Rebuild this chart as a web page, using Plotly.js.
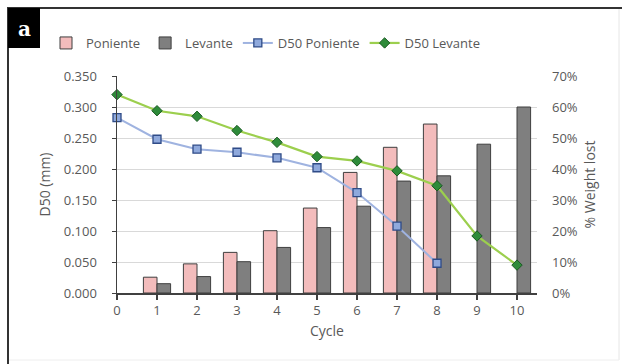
<!DOCTYPE html>
<html>
<head>
<meta charset="utf-8">
<script src="https://cdn.plot.ly/plotly-3.0.1.min.js"></script>
<style>html,body{margin:0;padding:0;background:#fff;}#chart{width:622px;height:364px;}</style>
</head>
<body>
<div id="chart"></div>
<script>
// Data
var cycles = [0, 1, 2, 3, 4, 5, 6, 7, 8, 9, 10];
var weightLostPoniente = [null, 5.1, 9.4, 13.1, 20.1, 27.4, 38.9, 47.0, 54.5, null, null];
var weightLostLevante = [null, 3.0, 5.3, 10.1, 14.7, 21.1, 28.0, 36.1, 37.8, 48.0, 60.0];
var d50Poniente = [0.283, 0.248, 0.232, 0.227, 0.218, 0.202, 0.162, 0.108, 0.048, null, null];
var d50Levante = [0.320, 0.294, 0.285, 0.262, 0.243, 0.220, 0.213, 0.197, 0.173, 0.092, 0.045];
var leftTicks = [0, 0.05, 0.1, 0.15, 0.2, 0.25, 0.3, 0.35];
var leftTickText = ['0.000', '0.050', '0.100', '0.150', '0.200', '0.250', '0.300', '0.350'];
var rightTicks = [0, 10, 20, 30, 40, 50, 60, 70];
var rightTickText = ['0%', '10%', '20%', '30%', '40%', '50%', '60%', '70%'];

var FONT = 'Open Sans, sans-serif';
var TXT = '#595959';

// paper helpers (plot area: x 117..537, y 76..293)
var L = 117, R = 537, T = 76, B = 293;
function px(x) { return (x - L) / (R - L); }
function py(y) { return (B - y) / (B - T); }

var traces = [
  {
    type: 'bar', name: 'Poniente', x: cycles, y: weightLostPoniente, yaxis: 'y',
    marker: {color: '#f3bcbc', line: {color: '#3f3f3f', width: 1}}
  },
  {
    type: 'bar', name: 'Levante', x: cycles, y: weightLostLevante, yaxis: 'y',
    marker: {color: '#7f7f7f', line: {color: '#3f3f3f', width: 1}}
  },
  {
    type: 'scatter', mode: 'lines+markers', name: 'D50 Poniente', x: cycles, y: d50Poniente, yaxis: 'y2',
    line: {color: '#9fb3e0', width: 2}, cliponaxis: false,
    marker: {symbol: 'square', size: 8, color: '#8fa9dc', line: {color: '#2f4b87', width: 1.3}}
  },
  {
    type: 'scatter', mode: 'lines+markers', name: 'D50 Levante', x: cycles, y: d50Levante, yaxis: 'y2',
    line: {color: '#9ccf4e', width: 2.2}, cliponaxis: false,
    marker: {symbol: 'diamond', size: 8, color: '#2e8b3a', line: {color: '#1a5a22', width: 1}}
  }
];

var layout = {
  width: 622, height: 364,
  margin: {l: L, r: 622 - R, t: T, b: 364 - B},
  paper_bgcolor: '#ffffff', plot_bgcolor: '#ffffff',
  font: {family: FONT, size: 13, color: TXT},
  barmode: 'group', bargap: 0.32, bargroupgap: 0,
  showlegend: true,
  legend: {
    orientation: 'h', xref: 'paper', yref: 'paper',
    x: px(46), xanchor: 'left', y: py(43), yanchor: 'middle',
    font: {family: FONT, size: 13, color: TXT}, bgcolor: 'rgba(0,0,0,0)'
  },
  xaxis: {
    range: [0, 10.5], tickmode: 'array', tickvals: cycles, ticktext: cycles.map(String),
    showline: true, linecolor: '#404040', linewidth: 1.5,
    ticks: 'outside', ticklen: 5, tickcolor: '#404040', tickwidth: 1.2,
    showgrid: false, zeroline: false,
    tickfont: {family: FONT, size: 13, color: TXT},
    title: {text: 'Cycle', font: {family: FONT, size: 14, color: TXT}, standoff: 8}
  },
  yaxis: {
    side: 'right', range: [0, 70], tickmode: 'array', tickvals: rightTicks, ticktext: rightTickText,
    showgrid: true, gridcolor: '#d9d9d9', gridwidth: 1, zeroline: false, showline: false,
    ticks: '', tickfont: {family: FONT, size: 13, color: TXT}, ticklabelstandoff: 14,
    title: {text: '% Weight lost', font: {family: FONT, size: 14, color: TXT}, standoff: 8}
  },
  yaxis2: {
    side: 'left', overlaying: 'y', range: [0, 0.35], tickmode: 'array', tickvals: leftTicks, ticktext: leftTickText,
    showgrid: false, zeroline: false, showline: true, linecolor: '#404040', linewidth: 1.5,
    ticks: 'outside', ticklen: 4, tickcolor: '#404040', ticklabelstandoff: 12,
    tickfont: {family: FONT, size: 13, color: TXT},
    title: {text: 'D50 (mm)', font: {family: FONT, size: 14, color: TXT}, standoff: 10}
  },
  shapes: [
    {type: 'line', xref: 'paper', yref: 'paper', x0: px(7), x1: px(622), y0: py(8), y1: py(8), line: {color: '#333333', width: 2}},
    {type: 'line', xref: 'paper', yref: 'paper', x0: px(8), x1: px(8), y0: py(7), y1: py(364), line: {color: '#333333', width: 2}},
    {type: 'line', xref: 'paper', yref: 'paper', x0: px(619), x1: px(619), y0: py(9), y1: py(360), line: {color: '#e6e6e6', width: 1}},
    {type: 'line', xref: 'paper', yref: 'paper', x0: px(9), x1: px(619), y0: py(360), y1: py(360), line: {color: '#eeeeee', width: 1}},
    {type: 'rect', xref: 'paper', yref: 'paper', x0: px(8), x1: px(40), y0: py(48), y1: py(8), fillcolor: '#000000', line: {width: 0}}
  ],
  annotations: [
    {xref: 'paper', yref: 'paper', x: px(24), y: py(29), text: '<b>a</b>', showarrow: false,
     font: {family: 'DejaVu Serif, serif', size: 20, color: '#ffffff'}, xanchor: 'center', yanchor: 'middle'}
  ]
};

Plotly.newPlot('chart', traces, layout, {displayModeBar: false, staticPlot: true});
</script>
</body>
</html>
